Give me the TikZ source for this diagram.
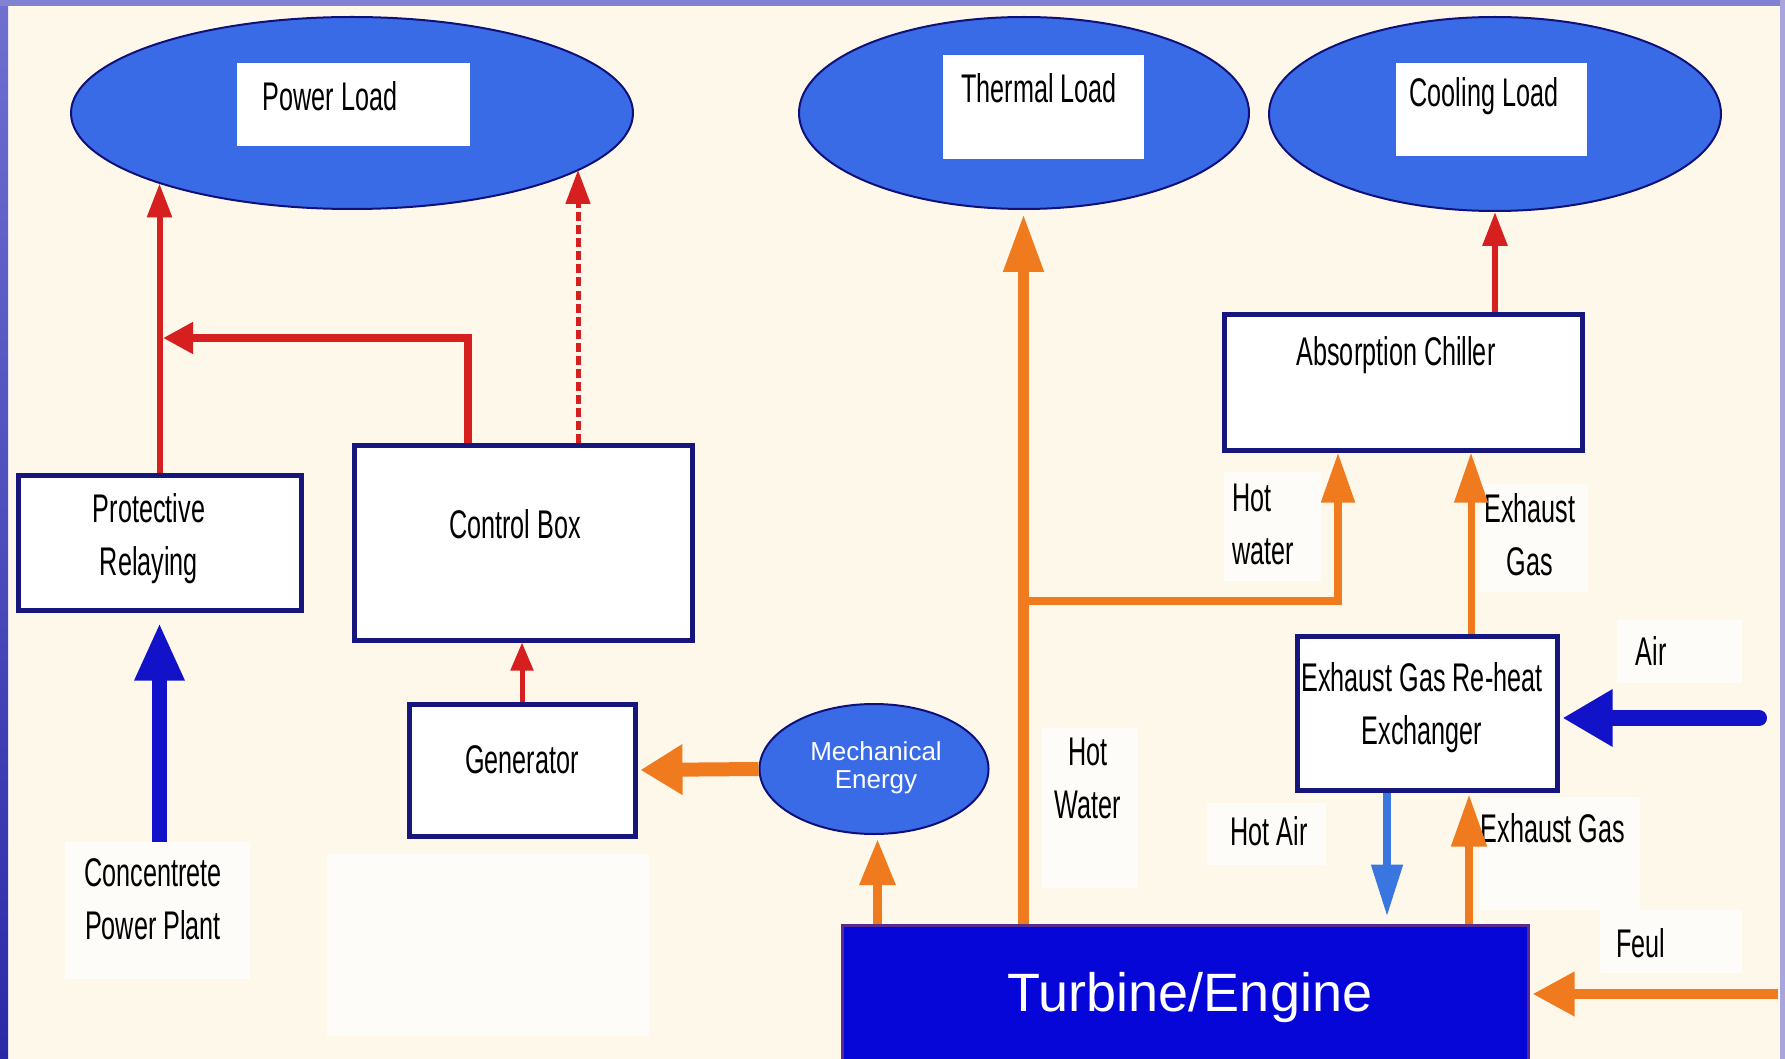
\documentclass[tikz,border=0pt]{standalone}
\usepackage{fontspec}
\setmainfont{Liberation Sans}
\newfontfamily\narrowfont[FakeStretch=0.63]{Liberation Sans}
\usetikzlibrary{arrows.meta,shapes.geometric}

\definecolor{cream}{HTML}{FEF8EB}
\definecolor{edgeA}{HTML}{7070D0}
\definecolor{edgeB}{HTML}{2A2AA8}
\definecolor{edgeTop}{HTML}{8282D4}
\definecolor{loadblue}{HTML}{3A6BE6}
\definecolor{navyline}{HTML}{10107A}
\definecolor{boxnavy}{HTML}{16167C}
\definecolor{turbineblue}{HTML}{0606D8}
\definecolor{turbineedge}{HTML}{5A2A90}
\definecolor{flowred}{HTML}{D62020}
\definecolor{floworange}{HTML}{F07A1E}
\definecolor{flowblue}{HTML}{1212C8}
\definecolor{hotairblue}{HTML}{3A76E0}

\newcommand\lblfont{\narrowfont\fontsize{40}{53}\selectfont}

\tikzset{
  loadshape/.style={ellipse, draw=navyline, line width=2pt, fill=loadblue, inner sep=0pt},
  tagbox/.style={rectangle, fill=white, draw=none, inner sep=0pt},
  blockbox/.style={rectangle, draw=boxnavy, line width=5pt, fill=white, inner sep=0pt},
  lbl/.style={font=\lblfont, inner sep=0pt, align=center, text=black},
  patch/.style={fill=white, opacity=0.7},
  redflow/.style={draw=flowred, line width=6pt, -{Triangle[length=34pt, width=24pt]}},
  orangeflow/.style={draw=floworange, line width=10pt, -{Triangle[length=50pt, width=36pt]}},
  blueflow/.style={draw=flowblue, line width=15pt, -{Triangle[length=58pt, width=46pt]}},
}

\begin{document}
\begin{tikzpicture}[x=1pt,y=-1pt]
\useasboundingbox (0,0) rectangle (1785,1059);

% page background and frame edges
\fill[cream] (0,0) rectangle (1785,1059);
\shade[top color=edgeA, bottom color=edgeB] (0,0) rectangle (8,1059);
\fill[edgeTop] (0,0) rectangle (1785,6);
\fill[edgeTop!70!cream] (1780,0) rectangle (1785,1059);

% light label patches
\fill[patch] (1224,472) rectangle (1321,581);
\fill[patch] (1480,484) rectangle (1588,592);
\fill[patch] (1617,620) rectangle (1742,683);
\fill[patch] (1042,728) rectangle (1138,888);
\fill[patch] (1207,803) rectangle (1326,865);
\fill[patch] (1480,797) rectangle (1640,910);
\fill[patch] (1600,910) rectangle (1742,973);
\fill[patch] (327,854) rectangle (649,1036);

% loads
\node[loadshape, minimum width=562pt, minimum height=192pt] (powerload) at (352,113) {};
\node[tagbox, minimum width=233pt, minimum height=83pt] (powertag) at (353.5,104.5) {};
\node[lbl] (powertext) at (330,96) {Power Load};

\node[loadshape, minimum width=450pt, minimum height=192pt] (thermalload) at (1024,113) {};
\node[tagbox, minimum width=201pt, minimum height=104pt] (thermaltag) at (1043.5,107) {};
\node[lbl] (thermaltext) at (1039,88) {Thermal Load};

\node[loadshape, minimum width=452pt, minimum height=194pt] (coolload) at (1495,114) {};
\node[tagbox, minimum width=191pt, minimum height=93pt] (cooltag) at (1491.5,109.5) {};
\node[lbl] (cooltext) at (1484,96) {Cooling Load};

% blocks
\node[blockbox, minimum width=283pt, minimum height=135pt] (relay) at (159.5,542.5) {};
\node[lbl] (relaytext) at (149,539) {Protective\\Relaying};

\node[blockbox, minimum width=338pt, minimum height=195pt] (control) at (523,542.5) {};
\node[lbl] (controltext) at (515,524) {Control Box};

\node[blockbox, minimum width=226pt, minimum height=132pt] (generator) at (522,770) {};
\node[lbl] (generatortext) at (522,760) {Generator};

\node[loadshape, minimum width=229pt, minimum height=130pt] (mech) at (874,769) {};
\node[text=white, font=\fontsize{26}{28}\selectfont, align=center, inner sep=0pt]
  (mechtext) at (876,768) {Mechanical\\Energy};

\node[blockbox, minimum width=358pt, minimum height=136pt] (chiller) at (1403,382) {};
\node[lbl] (chillertext) at (1396,355) {Absorption Chiller};

\node[blockbox, minimum width=260pt, minimum height=154pt] (exchanger) at (1427,713) {};
\node[lbl] (exchangertext) at (1422,707.5) {Exhaust Gas Re-heat\\Exchanger};

\node[rectangle, fill=turbineblue, draw=turbineedge, line width=3pt, inner sep=0pt,
      minimum width=686pt, minimum height=140pt] (turbine) at (1185,995) {};
\node[text=white, font=\fontsize{54}{60}\selectfont, inner sep=0pt] (turbinetext) at (1190,998) {Turbine/Engine};

% free labels
\fill[patch] (65,842) rectangle (250,979);
\node[lbl, minimum width=185pt, minimum height=137pt] (plant) at (157.5,910.5) {};
\node[lbl] (planttext) at (153,899) {Concentrete\\Power Plant};
\node[lbl, align=left, anchor=west] (hotwaterA) at (1232,524) {Hot\\water};
\node[lbl] (exhaustA) at (1530,534.5) {Exhaust\\Gas};
\node[lbl] (airtext) at (1651,651) {Air};
\node[lbl] (hotwaterB) at (1088,778) {Hot\\Water};
\node[lbl] (hotairtext) at (1269,831) {Hot Air};
\node[lbl] (exhaustB) at (1553,828) {Exhaust Gas};
\node[lbl] (feultext) at (1641,943) {Feul};

% end points of the incoming flows
\coordinate (airtail) at (1759,718);
\coordinate (feultail) at (1778,994);
\coordinate (relayjoin) at (163,338);
\coordinate (hotsplit) at (1025,601);

% electrical paths
\draw[redflow] (relay.north) -- (relay.north |- powerload.200);
\draw[draw=flowred, line width=8pt, -{Triangle[length=30pt, width=30pt]}]
  ([xshift=-55pt]control.north) |- (relayjoin);
\draw[draw=flowred, line width=5pt, dash pattern=on 9pt off 4pt,
      -{Triangle[length=34pt, width=24pt]}]
  ([xshift=55pt]control.north) -- ([xshift=55pt]control.north |- powerload.-14);
\draw[draw=flowred, line width=5pt, -{Triangle[length=28pt, width=22pt]}]
  (generator.north) -- (generator.north |- control.south);
\draw[redflow] (coolload.south |- chiller.north) -- (coolload.south);

% supply from the plant
\draw[blueflow, shorten >=10pt] (relay.south |- plant.north) -- (relay.south);

% mechanical and thermal paths
\draw[draw=floworange, line width=14pt, -{Triangle[length=42pt, width=48pt]}, shorten >=3pt]
  (mech.west) -- (generator.east);
\draw[draw=floworange, line width=9pt, -{Triangle[length=46pt, width=34pt]}, shorten >=4pt]
  ([xshift=37pt]turbine.north west) -- ([xshift=37pt]turbine.north west |- mech.south);
\draw[orangeflow, line width=11pt, -{Triangle[length=58pt, width=38pt]}, shorten >=4pt]
  ([xshift=183pt]turbine.north west) -- ([xshift=183pt]turbine.north west |- thermalload.south);
\draw[draw=floworange, line width=8pt, -{Triangle[length=50pt, width=32pt]}]
  (hotsplit) -| ([xshift=-65pt]chiller.south);
\draw[draw=floworange, line width=7pt, -{Triangle[length=50pt, width=32pt]}]
  ([xshift=44pt]exchanger.north) -- ([xshift=44pt]exchanger.north |- chiller.south);
\draw[draw=floworange, line width=8pt, -{Triangle[length=52pt, width=34pt]}, shorten >=2pt]
  ([xshift=42pt]exchanger.south |- turbine.north) -- ([xshift=42pt]exchanger.south);
\draw[draw=hotairblue, line width=8pt, -{Triangle[length=52pt, width=30pt]}, shorten >=7pt]
  ([xshift=-40pt]exchanger.south) -- ([xshift=-40pt]exchanger.south |- turbine.north);

% air and fuel inlets
\draw[draw=flowblue, line width=16pt, line cap=round, -{Triangle[length=50pt, width=54pt]}, shorten >=3pt]
  (airtail) -- (exchanger.east |- airtail);
\draw[draw=floworange, line width=10pt, -{Triangle[length=42pt, width=42pt]}, shorten >=3pt]
  (feultail) -- (turbine.east |- feultail);
\end{tikzpicture}
\end{document}
